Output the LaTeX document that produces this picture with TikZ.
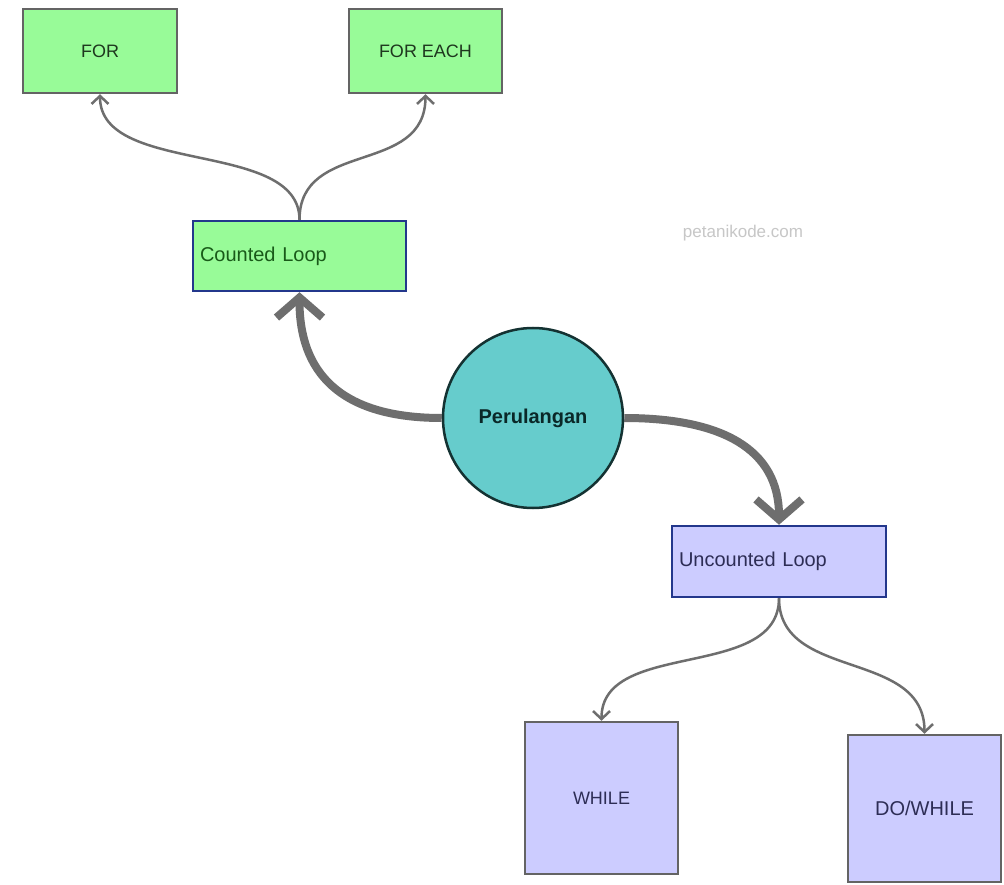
\documentclass[tikz,border=0pt]{standalone}
\usepackage{fontspec}
\setmainfont{Liberation Sans}
\usetikzlibrary{arrows.meta}
\definecolor{boxgreen}{RGB}{152,251,152}
\definecolor{boxlav}{RGB}{204,204,255}
\definecolor{circfill}{RGB}{102,204,204}
\definecolor{circline}{RGB}{20,50,50}
\definecolor{navyline}{RGB}{35,55,140}
\definecolor{greyline}{RGB}{100,100,100}
\definecolor{edgegrey}{RGB}{110,110,110}
\definecolor{greentext}{RGB}{25,90,25}
\definecolor{darkgreentext}{RGB}{30,55,30}
\definecolor{lavtext}{RGB}{45,45,85}
\definecolor{circtext}{RGB}{10,40,40}
\begin{document}
\begin{tikzpicture}[x=1pt,y=-1pt,
  txt/.style={font=\fontsize{18}{22}\selectfont},
  bigtxt/.style={font=\fontsize{20}{24}\selectfont},
  greenbox/.style={txt,draw=greyline,line width=2.5pt,fill=boxgreen,text=darkgreentext,rectangle,inner sep=0pt},
  greenmain/.style={bigtxt,draw=navyline,line width=2.5pt,fill=boxgreen,text=greentext,rectangle,inner sep=0pt,align=left},
  lavbox/.style={txt,draw=greyline,line width=2.5pt,fill=boxlav,text=lavtext,rectangle,inner sep=0pt},
  lavmain/.style={bigtxt,draw=navyline,line width=2.5pt,fill=boxlav,text=lavtext,rectangle,inner sep=0pt,align=left},
  thinarrow/.style={draw=edgegrey,line width=2.5pt,-{Straight Barb[length=8pt,width=17pt]}},
  thickarrow/.style={draw=edgegrey,line width=8pt,-{Straight Barb[length=20pt,width=46pt]}}
]
\useasboundingbox[fill=white] (0,0) rectangle (1004,885);

\node[greenbox,minimum width=154pt,minimum height=84pt] (for) at (100,51) {FOR};
\node[greenbox,minimum width=153pt,minimum height=84pt] (foreach) at (425.5,51) {FOR EACH};
\node[greenmain,minimum width=213pt,minimum height=70pt,text width=199pt] (counted) at (299.5,256) {Counted Loop};
\node[circle,draw=circline,line width=2.5pt,fill=circfill,minimum size=180pt,inner sep=0pt,
      font=\fontsize{20}{24}\selectfont\bfseries,text=circtext] (perul) at (533,418) {Perulangan};
\node[lavmain,minimum width=214pt,minimum height=71pt,text width=200pt] (uncounted) at (779,561.5) {Uncounted Loop};
\node[lavbox,minimum width=153pt,minimum height=152pt] (while) at (601.5,798) {WHILE};
\node[lavbox,bigtxt,minimum width=153pt,minimum height=147pt] (dowhile) at (924.5,808.5) {DO/WHILE};

\node[font=\fontsize{17}{20}\selectfont,text=black!22] (wm) at (743,233) {petanikode.com};

\draw[thinarrow] (counted.north) .. controls +(0,-81) and +(0,82) .. (for.south);
\draw[thinarrow] (counted.north) .. controls +(0,-81) and +(0,82) .. (foreach.south);
\draw[thickarrow] (perul.west) .. controls +(-103,0) and +(0,79) .. (counted.south);
\draw[thickarrow] (perul.east) .. controls +(97,0) and +(0,-76) .. (uncounted.north);
\draw[thinarrow] (uncounted.south) .. controls +(0,83) and +(0,-82) .. (while.north);
\draw[thinarrow] (uncounted.south) .. controls +(0,83) and +(0,-85) .. (dowhile.north);
\end{tikzpicture}
\end{document}
